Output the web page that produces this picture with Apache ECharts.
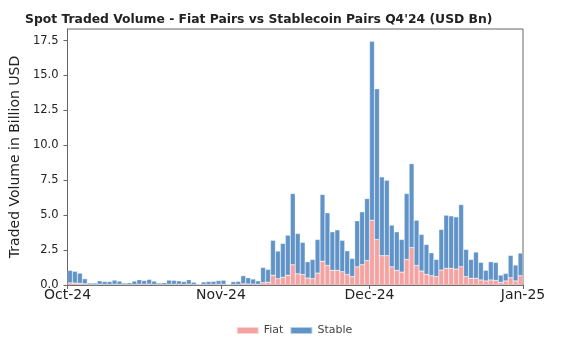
<!DOCTYPE html>
<html>
<head>
<meta charset="utf-8">
<script src="https://cdn.jsdelivr.net/npm/echarts@6/dist/echarts.min.js"></script>
<style>
  html, body { margin: 0; padding: 0; background: #fff; }
  #chart { width: 588px; height: 343px; }
</style>
</head>
<body>
<div id="chart"></div>
<script>
// Daily spot volume, 1 Oct 2024 .. 31 Dec 2024 (USD bn)
const startDate = '2024-10-01';
const endDate = '2025-01-01';

const fiat = [
  0.15, 0.14, 0.12, 0.08, 0.03, 0.03, 0.05, 0.04, 0.04, 0.05, 0.04, 0.03, 0.03, 0.04, 0.05, 0.05,
  0.06, 0.04, 0.03, 0.03, 0.05, 0.05, 0.05, 0.04, 0.06, 0.03, 0.02, 0.04, 0.04, 0.04, 0.05,
  0.05, 0.02, 0.04, 0.04, 0.08, 0.07, 0.06, 0.05, 0.17, 0.20, 0.70, 0.45, 0.55, 0.70, 1.45,
  0.80, 0.75, 0.50, 0.45, 0.85, 1.70, 1.40, 1.05, 1.05, 0.95, 0.75, 0.60, 1.30, 1.45, 1.75,
  4.64, 3.26, 2.10, 2.10, 1.30, 1.05, 0.92, 1.83, 2.68, 1.40, 1.00, 0.76, 0.67, 0.60, 1.07,
  1.19, 1.19, 1.14, 1.31, 0.60, 0.48, 0.48, 0.36, 0.29, 0.36, 0.33, 0.19, 0.29, 0.52, 0.29, 0.67
];

const stable = [
  0.90, 0.84, 0.73, 0.37, 0.11, 0.11, 0.25, 0.21, 0.21, 0.30, 0.24, 0.11, 0.13, 0.24, 0.33, 0.27,
  0.34, 0.24, 0.11, 0.13, 0.30, 0.28, 0.25, 0.21, 0.32, 0.17, 0.06, 0.18, 0.21, 0.22, 0.27,
  0.29, 0.04, 0.20, 0.22, 0.59, 0.45, 0.37, 0.25, 1.09, 0.92, 2.50, 1.98, 2.43, 2.87, 5.10,
  2.89, 2.30, 1.17, 1.38, 2.41, 4.78, 3.77, 2.76, 2.90, 2.25, 1.70, 1.30, 3.30, 3.79, 4.44,
  12.81, 10.79, 5.64, 5.40, 2.99, 2.76, 2.34, 4.72, 6.01, 3.24, 2.62, 2.14, 1.64, 1.23, 2.91,
  3.81, 3.76, 3.74, 4.45, 1.95, 1.35, 1.88, 1.26, 0.76, 1.31, 1.29, 0.52, 0.54, 1.60, 1.14, 1.62
];

const monthStarts = ['2024-10-01', '2024-11-01', '2024-12-01', '2025-01-01'];
const monthLabels = ['Oct-24', 'Nov-24', 'Dec-24', 'Jan-25'];
const yTicks = [0, 2.5, 5, 7.5, 10, 12.5, 15, 17.5];

// One category per calendar day
const DAY = 86400000;
const utc = d => Date.parse(d + 'T00:00:00Z');
const t0 = utc(startDate);
const nDays = Math.round((utc(endDate) - t0) / DAY);
const days = [];
for (let i = 0; i < nDays; i++) days.push(new Date(t0 + i * DAY).toISOString().slice(0, 10));

// Month ticks sit on day boundaries, so they live on a companion day-count axis
const tickDays = monthStarts.map(d => Math.round((utc(d) - t0) / DAY));
const labelFor = {};
tickDays.forEach((d, i) => { labelFor[d] = monthLabels[i]; });

const FONT = 'DejaVu Sans';
const barBorder = { borderColor: 'rgba(255,255,255,0.55)', borderWidth: 0.5 };

const chart = echarts.init(document.getElementById('chart'), null, { renderer: 'canvas' });
chart.setOption({
  animation: false,
  backgroundColor: '#ffffff',
  textStyle: { fontFamily: FONT },
  title: {
    text: "Spot Traded Volume - Fiat Pairs vs Stablecoin Pairs Q4'24 (USD Bn)",
    left: 20,
    top: 9,
    textStyle: { fontFamily: FONT, fontSize: 12.35, fontWeight: 'bold', color: '#222' }
  },
  legend: {
    data: ['Fiat', 'Stable'],
    bottom: 2,
    left: 'center',
    itemWidth: 22,
    itemHeight: 7,
    itemGap: 6,
    icon: 'rect',
    textStyle: { fontFamily: FONT, fontSize: 11, color: '#444' }
  },
  grid: {
    left: 66, right: 65, top: 29, bottom: 58,
    show: true, borderColor: '#666', borderWidth: 1, containLabel: false
  },
  xAxis: [
    {
      type: 'category',
      data: days,
      boundaryGap: true,
      axisLine: { show: true, lineStyle: { color: '#666', width: 1 } },
      axisTick: { show: false },
      axisLabel: { show: false },
      splitLine: { show: false }
    },
    {
      type: 'value',
      position: 'bottom',
      min: 0,
      max: nDays,
      axisLine: { show: false },
      splitLine: { show: false },
      axisTick: { show: true, length: 4, lineStyle: { color: '#666' }, customValues: tickDays },
      axisLabel: {
        customValues: tickDays,
        formatter: v => labelFor[v] || '',
        fontFamily: FONT, fontSize: 14, color: '#222', margin: 3
      }
    }
  ],
  yAxis: {
    type: 'value',
    min: 0,
    max: 18.33,
    name: 'Traded Volume in Billion USD',
    nameLocation: 'middle',
    nameRotate: 90,
    nameGap: 42,
    nameTextStyle: { fontFamily: FONT, fontSize: 14, color: '#222' },
    splitLine: { show: false },
    axisLine: { show: true, lineStyle: { color: '#666', width: 1 } },
    axisTick: { show: true, length: 4, lineStyle: { color: '#666' }, customValues: yTicks },
    axisLabel: {
      customValues: yTicks,
      formatter: v => v.toFixed(1),
      fontFamily: FONT, fontSize: 11.5, color: '#222', margin: 9
    }
  },
  series: [
    {
      name: 'Fiat', type: 'bar', stack: 'vol', xAxisIndex: 0,
      barCategoryGap: '0%',
      itemStyle: Object.assign({ color: '#f5a3a1' }, barBorder),
      data: fiat
    },
    {
      name: 'Stable', type: 'bar', stack: 'vol', xAxisIndex: 0,
      barCategoryGap: '0%',
      itemStyle: Object.assign({ color: '#6093c8' }, barBorder),
      data: stable
    }
  ]
});
</script>
</body>
</html>
